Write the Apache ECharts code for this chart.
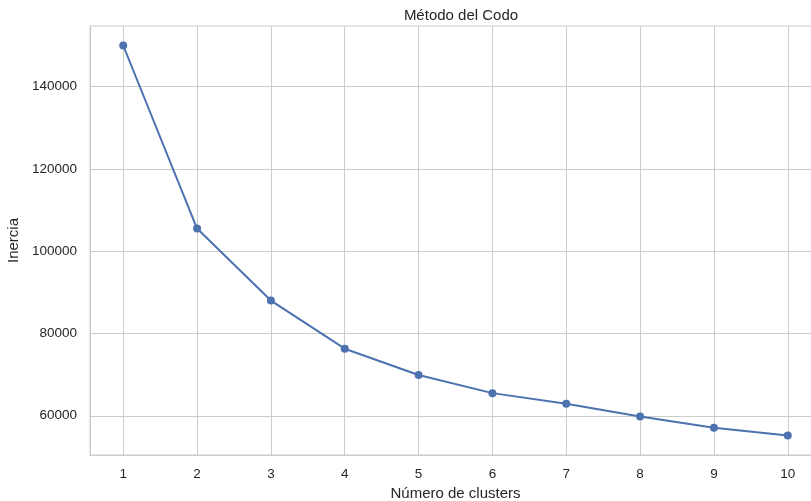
<!DOCTYPE html>
<html>
<head>
<meta charset="utf-8">
<script src="https://cdn.jsdelivr.net/npm/echarts@6/dist/echarts.min.js"></script>
<style>
  html, body { margin: 0; padding: 0; background: #fff; }
  #main { width: 811px; height: 501px; }
</style>
</head>
<body>
<div id="main"></div>
<script>
// numero de clusters (k) y su inercia
const clusters = [1, 2, 3, 4, 5, 6, 7, 8, 9, 10];
const inercia = [150000, 105500, 88000, 76300, 69900, 65500, 62900, 59800, 57100, 55200];
const yTicks = [60000, 80000, 100000, 120000, 140000];

const font = 'Liberation Sans, Arial, sans-serif';
const textColor = '#262626';
const gridColor = '#cccccc';

const chart = echarts.init(document.getElementById('main'));
chart.setOption({
  animation: false,
  title: {
    text: 'Método del Codo',
    left: 456,
    textAlign: 'center',
    top: 3,
    textStyle: { fontFamily: font, fontSize: 15, fontWeight: 'normal', color: textColor }
  },
  grid: {
    left: 90, right: -10, top: 26, bottom: 46,
    outerBoundsMode: 'none',
    containLabel: false,
    show: true, borderColor: gridColor, borderWidth: 1, backgroundColor: '#fff'
  },
  xAxis: {
    type: 'value',
    min: 0.55,
    max: 10.45,
    name: 'Número de clusters',
    nameLocation: 'middle',
    nameGap: 30,
    nameTextStyle: { fontFamily: font, fontSize: 15, color: textColor },
    axisLine: { show: true, lineStyle: { color: gridColor } },
    axisTick: { show: false, customValues: clusters },
    axisLabel: { customValues: clusters, fontFamily: font, fontSize: 13.5, color: textColor, margin: 12 },
    splitLine: { show: true, lineStyle: { color: gridColor, width: 1 } }
  },
  yAxis: {
    type: 'value',
    min: 50460,
    max: 154740,
    name: 'Inercia',
    nameLocation: 'middle',
    nameGap: 64,
    nameTextStyle: { fontFamily: font, fontSize: 15, color: textColor },
    axisLine: { show: true, lineStyle: { color: gridColor } },
    axisTick: { show: false, customValues: yTicks },
    axisLabel: {
      customValues: yTicks, fontFamily: font, fontSize: 13.5, color: textColor, margin: 13,
      formatter: v => String(v)
    },
    splitLine: { show: true, lineStyle: { color: gridColor, width: 1 } }
  },
  series: [{
    type: 'line',
    data: clusters.map((k, i) => [k, inercia[i]]),
    symbol: 'circle',
    symbolSize: 8,
    lineStyle: { color: '#4c72b0', width: 2 },
    itemStyle: { color: '#4c72b0' }
  }]
});
</script>
</body>
</html>
